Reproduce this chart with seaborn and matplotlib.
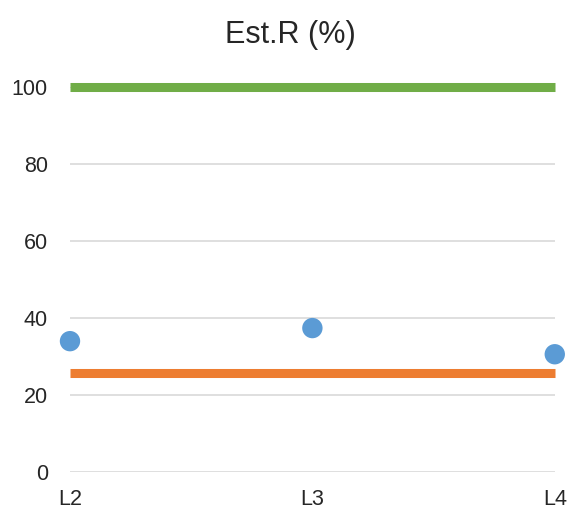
import pandas as pd
import seaborn as sns
import matplotlib.pyplot as plt
import numpy as np

levels = ['L2', 'L3', 'L4']
est_r = [34.0, 37.4, 30.6]
upper = [100, 100, 100]
lower = [25.7, 25.7, 25.7]

sns.set_theme(style='white')
plt.rcParams['font.family'] = ['Liberation Sans', 'DejaVu Sans']

df = pd.DataFrame({'level': levels, 'x': np.arange(len(levels)),
                   'est_r': est_r, 'upper': upper, 'lower': lower})

fig = plt.figure(figsize=(5.69, 5.09), dpi=100)
ax = fig.add_axes([0.123, 0.0727, 0.852, 0.756])

sns.lineplot(data=df, x='x', y='upper', color='#70AD47', linewidth=6.5, ax=ax,
             clip_on=False, solid_capstyle='butt')
sns.lineplot(data=df, x='x', y='lower', color='#ED7D31', linewidth=6.5, ax=ax,
             clip_on=False, solid_capstyle='butt')
sns.scatterplot(data=df, x='x', y='est_r', color='#5B9BD5', s=215, edgecolor='none',
                ax=ax, clip_on=False, zorder=5)

ax.set_xlim(0, 2)
ax.set_ylim(0, 100)
ax.set_yticks(range(0, 101, 20))
ax.set_xticks(df['x'])
ax.set_xticklabels(levels)
ax.grid(axis='y', color='#d9d9d9', linewidth=1.2)
ax.set_axisbelow(True)
for s in ax.spines.values():
    s.set_visible(False)
ax.tick_params(axis='both', length=0, labelsize=15.5, labelcolor='#262626')
ax.tick_params(axis='y', pad=16)
ax.tick_params(axis='x', pad=12)
ax.set_xlabel('')
ax.set_ylabel('')
fig.text(0.51, 0.931, 'Est.R (%)', fontsize=22, color='#262626', ha='center', va='center')

plt.savefig('out.png', dpi=100)
